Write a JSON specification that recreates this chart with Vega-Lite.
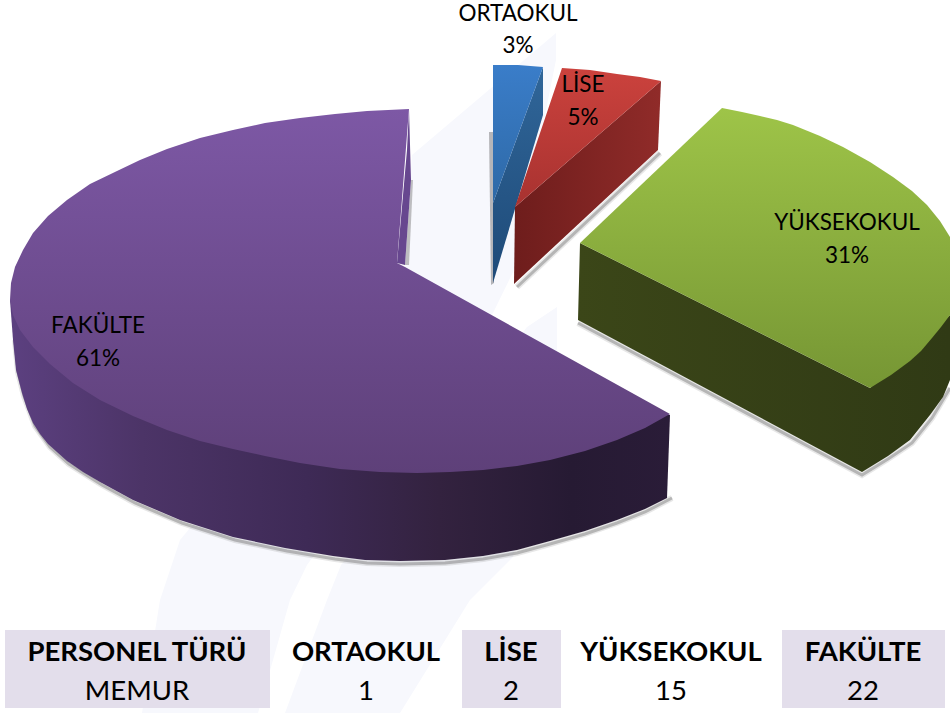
{"$schema":"https://vega.github.io/schema/vega-lite/v6.json","width":950,"height":713,"padding":0,"autosize":{"type":"none"},"background":"white","config":{"view":{"stroke":null}},
"datasets":{
"o":[
{"p":"w1","x":556,"y":33},{"p":"w1","x":412,"y":155},{"p":"w1","x":405,"y":270},{"p":"w1","x":180,"y":540},{"p":"w1","x":160,"y":600},{"p":"w1","x":142,"y":713},{"p":"w1","x":258,"y":713},{"p":"w1","x":290,"y":600},{"p":"w1","x":307,"y":565},{"p":"w1","x":493,"y":313},{"p":"w1","x":514,"y":270},{"p":"w1","x":556,"y":60},
{"p":"w2","x":557,"y":307},{"p":"w2","x":527,"y":327},{"p":"w2","x":341,"y":565},{"p":"w2","x":327,"y":600},{"p":"w2","x":285,"y":713},{"p":"w2","x":400,"y":713},{"p":"w2","x":470,"y":600},{"p":"w2","x":490,"y":580},{"p":"w2","x":513,"y":557},{"p":"w2","x":557,"y":350},
{"p":"psw","x":411,"y":180},{"p":"psw","x":413,"y":180},{"p":"psw","x":409,"y":265},{"p":"psw","x":405,"y":265},
{"p":"bsw","x":489,"y":132},{"p":"bsw","x":493,"y":132},{"p":"bsw","x":494,"y":283},{"p":"bsw","x":491,"y":285},
{"p":"pside","x":10,"y":300},{"p":"pside","x":13,"y":340},{"p":"pside","x":16,"y":370},{"p":"pside","x":22,"y":393},{"p":"pside","x":27,"y":409},{"p":"pside","x":33,"y":423},{"p":"pside","x":40,"y":434},{"p":"pside","x":48,"y":444},{"p":"pside","x":67,"y":461},{"p":"pside","x":83,"y":472},{"p":"pside","x":100,"y":482},{"p":"pside","x":133,"y":500},{"p":"pside","x":180,"y":520},{"p":"pside","x":233,"y":537},{"p":"pside","x":285,"y":548},{"p":"pside","x":333,"y":556},{"p":"pside","x":365,"y":560},{"p":"pside","x":400,"y":561},{"p":"pside","x":445,"y":560},{"p":"pside","x":483,"y":556},{"p":"pside","x":517,"y":550},{"p":"pside","x":550,"y":541},{"p":"pside","x":585,"y":531},{"p":"pside","x":617,"y":520},{"p":"pside","x":645,"y":509},{"p":"pside","x":667,"y":498},{"p":"pside","x":670,"y":415},
{"p":"pinner","x":409,"y":109},{"p":"pinner","x":411,"y":180},{"p":"pinner","x":405,"y":265},{"p":"pinner","x":397,"y":263},{"p":"pinner","x":407,"y":150},
{"p":"ptop","x":670,"y":414},{"p":"ptop","x":645,"y":428},{"p":"ptop","x":617,"y":440},{"p":"ptop","x":585,"y":451},{"p":"ptop","x":550,"y":460},{"p":"ptop","x":517,"y":466},{"p":"ptop","x":483,"y":470},{"p":"ptop","x":450,"y":472},{"p":"ptop","x":417,"y":473},{"p":"ptop","x":380,"y":472},{"p":"ptop","x":340,"y":469},{"p":"ptop","x":300,"y":463},{"p":"ptop","x":265,"y":456},{"p":"ptop","x":233,"y":449},{"p":"ptop","x":200,"y":441},{"p":"ptop","x":167,"y":430},{"p":"ptop","x":133,"y":416},{"p":"ptop","x":100,"y":400},{"p":"ptop","x":73,"y":383},{"p":"ptop","x":50,"y":364},{"p":"ptop","x":33,"y":347},{"p":"ptop","x":20,"y":330},{"p":"ptop","x":13,"y":315},{"p":"ptop","x":10,"y":300},{"p":"ptop","x":11,"y":283},{"p":"ptop","x":15,"y":267},{"p":"ptop","x":23,"y":250},{"p":"ptop","x":33,"y":233},{"p":"ptop","x":48,"y":216},{"p":"ptop","x":67,"y":200},{"p":"ptop","x":90,"y":184},{"p":"ptop","x":117,"y":171},{"p":"ptop","x":140,"y":160},{"p":"ptop","x":167,"y":149},{"p":"ptop","x":200,"y":138},{"p":"ptop","x":233,"y":130},{"p":"ptop","x":265,"y":123},{"p":"ptop","x":300,"y":118},{"p":"ptop","x":335,"y":114},{"p":"ptop","x":367,"y":111},{"p":"ptop","x":409,"y":109},{"p":"ptop","x":397,"y":263},{"p":"ptop","x":405,"y":267},
{"p":"gside","x":580,"y":243},{"p":"gside","x":578,"y":320},{"p":"gside","x":862,"y":472},{"p":"gside","x":888,"y":456},{"p":"gside","x":910,"y":440},{"p":"gside","x":930,"y":415},{"p":"gside","x":943,"y":397},{"p":"gside","x":950,"y":380},{"p":"gside","x":950,"y":315},{"p":"gside","x":870,"y":388},
{"p":"gtop","x":722,"y":108},{"p":"gtop","x":742,"y":112},{"p":"gtop","x":760,"y":116},{"p":"gtop","x":777,"y":120},{"p":"gtop","x":793,"y":125},{"p":"gtop","x":820,"y":136},{"p":"gtop","x":843,"y":147},{"p":"gtop","x":870,"y":162},{"p":"gtop","x":893,"y":177},{"p":"gtop","x":912,"y":191},{"p":"gtop","x":927,"y":205},{"p":"gtop","x":940,"y":221},{"p":"gtop","x":950,"y":237},{"p":"gtop","x":950,"y":315},{"p":"gtop","x":941,"y":327},{"p":"gtop","x":932,"y":338},{"p":"gtop","x":921,"y":351},{"p":"gtop","x":910,"y":361},{"p":"gtop","x":891,"y":375},{"p":"gtop","x":870,"y":388},{"p":"gtop","x":580,"y":243},
{"p":"bside","x":543,"y":67},{"p":"bside","x":543,"y":115},{"p":"bside","x":493,"y":283},{"p":"bside","x":493,"y":203},
{"p":"btop","x":493,"y":65},{"p":"btop","x":518,"y":65},{"p":"btop","x":543,"y":67},{"p":"btop","x":493,"y":203},
{"p":"rside","x":661,"y":81},{"p":"rside","x":658,"y":150},{"p":"rside","x":514,"y":284},{"p":"rside","x":515,"y":207},
{"p":"rtop","x":562,"y":68},{"p":"rtop","x":576,"y":69},{"p":"rtop","x":590,"y":70},{"p":"rtop","x":617,"y":74},{"p":"rtop","x":640,"y":77},{"p":"rtop","x":661,"y":81},{"p":"rtop","x":515,"y":207}
],
"s":[
{"p":"a","x":660,"y":153},{"p":"a","x":517,"y":287},
{"p":"b","x":578,"y":323},{"p":"b","x":862,"y":475},{"p":"b","x":888,"y":459},{"p":"b","x":912,"y":443},{"p":"b","x":932,"y":418},{"p":"b","x":950,"y":388},
{"p":"c","x":15,"y":340},{"p":"c","x":18,"y":372},{"p":"c","x":24,"y":396},{"p":"c","x":35,"y":426},{"p":"c","x":50,"y":447},{"p":"c","x":69,"y":464},{"p":"c","x":102,"y":485},{"p":"c","x":135,"y":503},{"p":"c","x":182,"y":523},{"p":"c","x":235,"y":540},{"p":"c","x":287,"y":551},{"p":"c","x":335,"y":559},{"p":"c","x":367,"y":563},{"p":"c","x":400,"y":564},{"p":"c","x":445,"y":563},{"p":"c","x":483,"y":559},{"p":"c","x":517,"y":553},{"p":"c","x":550,"y":544},{"p":"c","x":585,"y":534},{"p":"c","x":617,"y":523},{"p":"c","x":645,"y":512},{"p":"c","x":672,"y":498}
],
"c":[{"x":5,"x2":270,"y":630,"y2":708},{"x":462,"x2":561,"y":630,"y2":708},{"x":782,"x2":945,"y":630,"y2":708}],
"l":[{"t":"ORTAOKUL","x":518,"y":14},{"t":"3%","x":518,"y":46},{"t":"LİSE","x":583,"y":85},{"t":"5%","x":583,"y":118},{"t":"YÜKSEKOKUL","x":847,"y":223},{"t":"31%","x":847,"y":256},{"t":"FAKÜLTE","x":98,"y":326},{"t":"61%","x":98,"y":359}],
"h":[{"t":"PERSONEL TÜRÜ","x":137,"y":653},{"t":"ORTAOKUL","x":366,"y":653},{"t":"LİSE","x":511,"y":653},{"t":"YÜKSEKOKUL","x":671,"y":653},{"t":"FAKÜLTE","x":863,"y":653}],
"r":[{"t":"MEMUR","x":137,"y":692},{"t":"1","x":366,"y":692},{"t":"2","x":511,"y":692},{"t":"15","x":671,"y":692},{"t":"22","x":863,"y":692}]
},
"encoding":{"x":{"field":"x","type":"quantitative","scale":{"domain":[0,950]},"axis":null},"y":{"field":"y","type":"quantitative","scale":{"domain":[713,0]},"axis":null}},
"layer":[
{"data":{"name":"o"},"transform":[{"filter":"datum.p=='w1'"}],"mark":{"type":"line","fill":"#f7f8fd","stroke":null,"strokeWidth":0},"encoding":{"order":{"value":null}}},
{"data":{"name":"o"},"transform":[{"filter":"datum.p=='w2'"}],"mark":{"type":"line","fill":"#f7f8fd","stroke":null,"strokeWidth":0},"encoding":{"order":{"value":null}}},
{"data":{"name":"s"},"mark":{"type":"line","stroke":"#888888","strokeWidth":6,"opacity":0.2},"encoding":{"detail":{"field":"p"},"order":{"value":null}}},
{"data":{"name":"s"},"mark":{"type":"line","stroke":"#777777","strokeWidth":3,"opacity":0.45},"encoding":{"detail":{"field":"p"},"order":{"value":null}}},
{"data":{"name":"o"},"transform":[{"filter":"datum.p=='psw'"}],"mark":{"type":"line","fill":"#bdbdc0","stroke":null,"strokeWidth":0},"encoding":{"order":{"value":null}}},
{"data":{"name":"o"},"transform":[{"filter":"datum.p=='bsw'"}],"mark":{"type":"line","fill":"#b5b5b9","stroke":null,"strokeWidth":0},"encoding":{"order":{"value":null}}},
{"data":{"name":"o"},"transform":[{"filter":"datum.p=='pside'"}],"mark":{"type":"line","stroke":null,"strokeWidth":0,"fill":{"gradient":"linear","x1":0,"y1":0,"x2":1,"y2":0,"stops":[{"offset":0,"color":"#5c4080"},{"offset":0.2,"color":"#4c3467"},{"offset":0.45,"color":"#3e2a56"},{"offset":0.65,"color":"#33223f"},{"offset":0.85,"color":"#261a33"},{"offset":1,"color":"#2a1c38"}]}},"encoding":{"order":{"value":null}}},
{"data":{"name":"o"},"transform":[{"filter":"datum.p=='pinner'"}],"mark":{"type":"line","fill":"#67478f","stroke":null,"strokeWidth":0},"encoding":{"order":{"value":null}}},
{"data":{"name":"o"},"transform":[{"filter":"datum.p=='ptop'"}],"mark":{"type":"line","stroke":null,"strokeWidth":0,"fill":{"gradient":"linear","x1":0,"y1":0,"x2":0,"y2":1,"stops":[{"offset":0,"color":"#7d58a5"},{"offset":1,"color":"#5e4079"}]}},"encoding":{"order":{"value":null}}},
{"data":{"name":"o"},"transform":[{"filter":"datum.p=='gside'"}],"mark":{"type":"line","stroke":null,"strokeWidth":0,"fill":{"gradient":"linear","x1":0,"y1":0,"x2":1,"y2":0,"stops":[{"offset":0,"color":"#3b4618"},{"offset":1,"color":"#303a15"}]}},"encoding":{"order":{"value":null}}},
{"data":{"name":"o"},"transform":[{"filter":"datum.p=='gtop'"}],"mark":{"type":"line","stroke":null,"strokeWidth":0,"fill":{"gradient":"linear","x1":0,"y1":0,"x2":0,"y2":1,"stops":[{"offset":0,"color":"#9ec448"},{"offset":1,"color":"#769634"}]}},"encoding":{"order":{"value":null}}},
{"data":{"name":"o"},"transform":[{"filter":"datum.p=='bside'"}],"mark":{"type":"line","stroke":null,"strokeWidth":0,"fill":{"gradient":"linear","x1":0,"y1":0,"x2":0,"y2":1,"stops":[{"offset":0,"color":"#306699"},{"offset":1,"color":"#1e4a78"}]}},"encoding":{"order":{"value":null}}},
{"data":{"name":"o"},"transform":[{"filter":"datum.p=='btop'"}],"mark":{"type":"line","stroke":null,"strokeWidth":0,"fill":{"gradient":"linear","x1":0,"y1":0,"x2":0,"y2":1,"stops":[{"offset":0,"color":"#3a7dc9"},{"offset":1,"color":"#2e69a6"}]}},"encoding":{"order":{"value":null}}},
{"data":{"name":"o"},"transform":[{"filter":"datum.p=='rside'"}],"mark":{"type":"line","stroke":null,"strokeWidth":0,"fill":{"gradient":"linear","x1":0,"y1":0,"x2":1,"y2":0,"stops":[{"offset":0,"color":"#6e1d1c"},{"offset":1,"color":"#902b29"}]}},"encoding":{"order":{"value":null}}},
{"data":{"name":"o"},"transform":[{"filter":"datum.p=='rtop'"}],"mark":{"type":"line","stroke":null,"strokeWidth":0,"fill":{"gradient":"linear","x1":0,"y1":0,"x2":0,"y2":1,"stops":[{"offset":0,"color":"#cb423d"},{"offset":1,"color":"#a83230"}]}},"encoding":{"order":{"value":null}}},
{"data":{"name":"c"},"mark":{"type":"rect","fill":"#e3deeb"},"encoding":{"x2":{"field":"x2"},"y2":{"field":"y2"}}},
{"data":{"name":"l"},"mark":{"type":"text","font":"Lato","fontSize":22.5,"color":"#000000","align":"center","baseline":"middle"},"encoding":{"text":{"field":"t"}}},
{"data":{"name":"h"},"mark":{"type":"text","font":"Lato","fontSize":27.5,"fontWeight":"bold","color":"#000000","align":"center","baseline":"middle"},"encoding":{"text":{"field":"t"}}},
{"data":{"name":"r"},"mark":{"type":"text","font":"Lato","fontSize":27.5,"color":"#000000","align":"center","baseline":"middle"},"encoding":{"text":{"field":"t"}}}
]}
